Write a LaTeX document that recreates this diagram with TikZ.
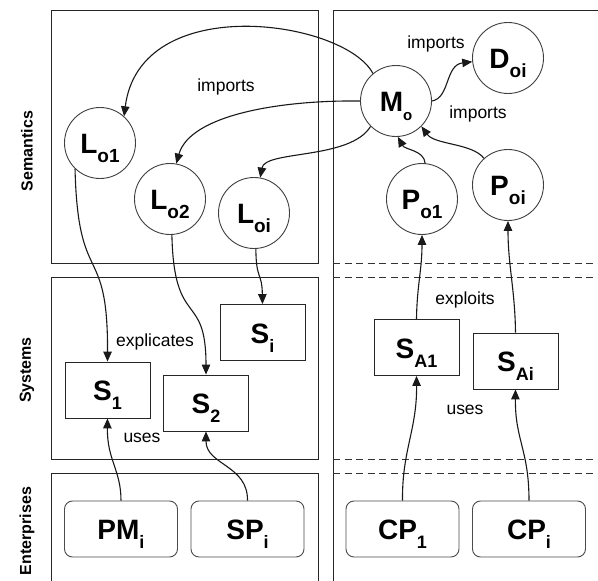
\documentclass[tikz,border=0pt]{standalone}
\usepackage{fontspec}
\setmainfont{Liberation Sans}
\usetikzlibrary{arrows.meta}
% bold name with a lowered subscript, vertically offset inside its node
\newcommand\nm[3][19]{\raisebox{0pt}[25pt][4pt]{\fontsize{28}{28}\selectfont\bfseries #2\raisebox{-9pt}{\fontsize{#1}{#1}\selectfont #3}}}
\tikzset{
  circ/.style={circle, draw=black!75, line width=0.9pt, fill=white, minimum size=71pt, inner sep=0pt},
  sbox/.style={rectangle, draw=black!85, line width=0.9pt, fill=white, minimum width=85pt, minimum height=56pt, inner sep=0pt},
  ebox/.style={rectangle, rounded corners=8pt, draw=black!70, line width=0.9pt, fill=white, minimum width=113pt, minimum height=56pt, inner sep=0pt},
  link/.style={line width=1.1pt, draw=black!90, -{Triangle[length=10pt,width=8.5pt]}},
  lbl/.style={font=\fontsize{17.5}{18}\selectfont, inner sep=1pt},
  side/.style={font=\bfseries\fontsize{16}{16}\selectfont, rotate=90, inner sep=0pt},
  panel/.style={line width=0.9pt, draw=black!85},
  sep/.style={line width=0.9pt, draw=black!80, dash pattern=on 7pt off 4.5pt}
}
\begin{document}
\begin{tikzpicture}[x=1pt, y=-1pt]
\fill[white] (0,0) rectangle (598,581);
\useasboundingbox (0,0) rectangle (598,581);

% layer panels
\draw[panel] (51,10) rectangle (318,263);
\draw[panel] (51,277) rectangle (318,459);
\draw[panel] (51,581) -- (51,473) -- (318,473) -- (318,581);
\draw[panel] (598,10) -- (333,10) -- (333,581);
\draw[sep] (333,263) -- (598,263);
\draw[sep] (333,277) -- (598,277);
\draw[sep] (333,459) -- (598,459);
\draw[sep] (333,473) -- (598,473);

% layer names
\node[side] (semlab) at (27,151) {Semantics};
\node[side] (syslab) at (27,370) {Systems};
\node[side] (entlab) at (27,531) {Enterprises};

% semantics layer
\node[circ] (L1) at (100,143) {\nm{L}{o1}};
\node[circ] (L2) at (170,199) {\nm{L}{o2}};
\node[circ] (Li) at (254,213) {\nm{L}{oi}};
\node[circ] (M)  at (396,101) {\nm[15]{M}{o}};
\node[circ] (D)  at (508,58)  {\nm{D}{oi}};
\node[circ] (P1) at (422,199) {\nm{P}{o1}};
\node[circ] (Pi) at (508,185) {\nm{P}{oi}};

% systems layer
\node[sbox] (S1)  at (107.5,390) {\nm[18]{S}{1}};
\node[sbox] (S2)  at (206,403)   {\nm[18]{S}{2}};
\node[sbox] (Si)  at (262.5,332.5) {\nm[18]{S}{i}};
\node[sbox] (SA1) at (416.5,347.5) {\nm[18]{S}{A1}};
\node[sbox] (SAi) at (515.5,361)   {\nm[18]{S}{Ai}};

% enterprises layer
\node[ebox] (PM)  at (121,529)   {\nm[18]{PM}{i}};
\node[ebox] (SP)  at (247.5,529) {\nm[18]{SP}{i}};
\node[ebox] (CP1) at (402.5,529) {\nm[18]{CP}{1}};
\node[ebox] (CPi) at (529,529)   {\nm[18]{CP}{i}};

% imports
\draw[link] (M.130) .. controls (345,20) and (140,-10) .. (L1.48);
\draw[link] (M.180) .. controls (280,100) and (190,115) .. (L2.80);
\draw[link] (M.225) .. controls (350,160) and (265,150) .. (Li.80);
\draw[link] (M.0) .. controls (450,98) and (445,65) .. (D.186);
\draw[link] (P1.85) .. controls (424,150) and (405,150) .. (M.-87);
\draw[link] (Pi.132) .. controls (472,143) and (435,145) .. (M.-45);

% explicates
\draw[link] (L1.226) .. controls (78,290) and (108,240) .. (S1.north);
\draw[link] (L2.-87) .. controls (174,330) and (206,290) .. (S2.north);
\draw[link] (Li.-87) .. controls (256,280) and (262,272) .. (Si.north);

% exploits
\draw[link] (SA1.north) .. controls (417,285) and (422,270) .. (P1.south);
\draw[link] (SAi.north) .. controls (515,290) and (508,265) .. (Pi.south);

% uses
\draw[link] (PM.north) .. controls (121,470) and (107,460) .. (S1.south);
\draw[link] (SP.north) .. controls (248,465) and (206,465) .. (S2.south);
\draw[link] (CP1.north) .. controls (402,450) and (417,430) .. (SA1.south);
\draw[link] (CPi.north) .. controls (529,450) and (515,440) .. (SAi.south);

% connector labels
\node[lbl] (t1) at (226,87)  {imports};
\node[lbl] (t2) at (436,44)  {imports};
\node[lbl] (t3) at (478,114) {imports};
\node[lbl] (t4) at (155,342) {explicates};
\node[lbl] (t5) at (142,438) {uses};
\node[lbl] (t6) at (465,300) {exploits};
\node[lbl] (t7) at (465,410) {uses};
\end{tikzpicture}
\end{document}
